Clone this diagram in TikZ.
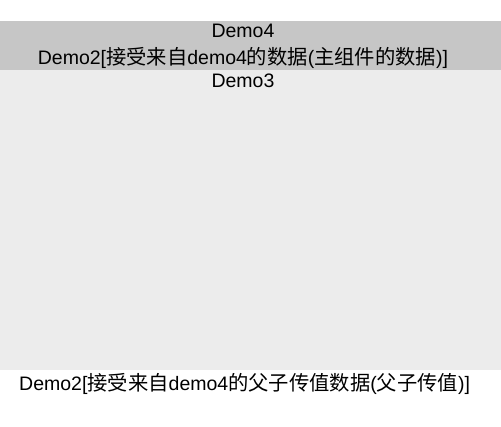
\documentclass[tikz,border=0pt]{standalone}
\usepackage{fontspec}
\setmainfont{Liberation Sans}
\newfontfamily\cjk{Noto Sans CJK SC}
\newcommand{\zh}[1]{{\cjk\fontsize{20.3}{24}\selectfont #1}}
\tikzset{
  txt/.style={font=\fontsize{19.5}{24}\selectfont, inner sep=0pt, anchor=base}
}
\begin{document}
\begin{tikzpicture}[x=1pt, y=-1pt]
        \useasboundingbox (0,0) rectangle (501,427);

        % The parent Demo4
        \fill[fill={rgb,255:red,198;green,198;blue,198}] (0,21) rectangle (501,70);
        \node[txt] (demofour) at (243,37.7) {Demo4};
        \node[txt] (demotwotop) at (243,64.5) {Demo2[\zh{接受来自}demo4\zh{的数据}(\zh{主组件的数据})]};

        % The child Demo3
        \fill[fill={rgb,255:red,236;green,236;blue,236}] (0,70) rectangle (501,370);
        \node[txt] (demothree) at (243,87.3) {Demo3};

        % Demo2 below
        \node[txt, anchor=base west] (demotwobottom) at (19,390.5) {Demo2[\zh{接受来自}demo4\zh{的父子传值数据}(\zh{父子传值})]};
    \end{tikzpicture}
\end{document}
